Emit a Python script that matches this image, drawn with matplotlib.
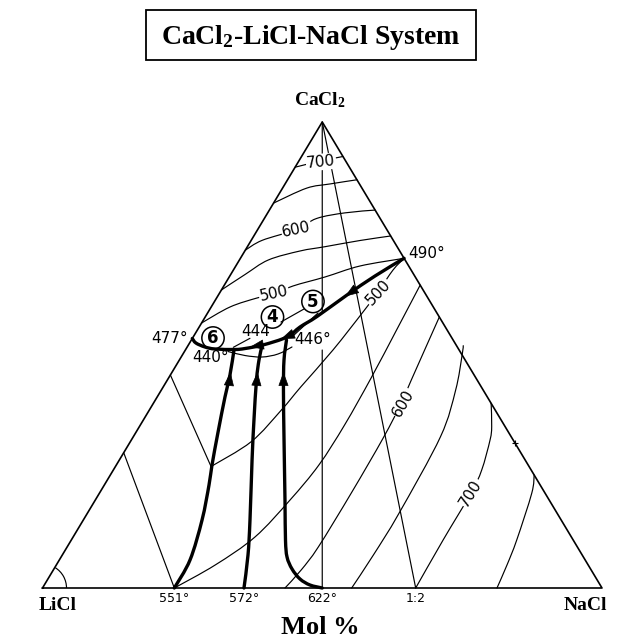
import numpy as np
import matplotlib
matplotlib.use('Agg')
import matplotlib.pyplot as plt
from matplotlib.patches import Arc, Rectangle, PathPatch
from matplotlib.path import Path

plt.rcParams['mathtext.fontset'] = 'custom'
plt.rcParams['mathtext.rm'] = 'Liberation Serif:bold'
plt.rcParams['mathtext.bf'] = 'Liberation Serif:bold'
plt.rcParams['mathtext.default'] = 'rm'

# ==========================================
# DATA  (b = mol% NaCl, c = mol% CaCl2)
# ==========================================
# liquidus isotherms in the CaCl2 field
iso700_b = [0, 3.5, 7.4]
iso700_c = [90.3, 91.5, 92.6]
iso650_b = [0, 4.3, 8.0, 12.4]
iso650_c = [82.6, 85.8, 86.7, 87.6]
iso600_b = [0, 1.95, 6.85, 9.35, 13.8, 18.9]
iso600_c = [72.5, 74.6, 76.9, 79.3, 80.5, 81.1]
iso550_b = [0, 2.56, 5.17, 9.87, 13.87, 19.46, 24.46]
iso550_c = [63.95, 67.27, 70.39, 72.32, 73.24, 74.57, 75.54]
iso500_b = [0, 3.36, 7.22, 9.83, 12.37, 17.12, 22.20, 29.25]
iso500_c = [56.87, 60.30, 62.23, 63.09, 64.81, 66.74, 69.10, 70.75]

# isotherms in the lower fields (split where they bend at a boundary)
low500_b = [29.25, 28.53, 28.20, 27.67, 26.38, 24.6, 23.6, 21.6, 17.09]
low500_c = [70.75, 68.24, 63.52, 59.23, 51.07, 43.20, 38.20, 31.39, 26.07]
low500li_b = [17.09, 0]
low500li_c = [26.07, 45.71]
low550_b = [35.0, 35.6, 36.2, 36.5, 36.2, 34.8, 32.5, 28.4, 23.56]
low550_c = [65.0, 55.36, 45.06, 34.98, 26.39, 18.88, 10.94, 4.94, 0]
low550li_b = [23.56, 0]
low550li_c = [0, 29.03]
low600_b = [41.85, 43.6, 44.3, 44.8, 45.0, 44.9, 44.3, 43.34]
low600_c = [58.15, 44.63, 39.70, 32.12, 20.60, 8.86, 3.86, 0]
low650_b = [55.26, 55.6, 55.7, 54.9, 52.6, 50.0, 49.2]
low650_c = [0, 7.08, 16.03, 32.47, 42.49, 50.0, 52.0]
low700_b = [66.7, 66.45, 66.40, 65.84, 64.11, 62.98, 60.37]
low700_c = [0, 10.36, 20.39, 25.32, 31.76, 34.61, 39.63]
low750_b = [81.23, 80.55, 79.61, 77.28, 75.75]
low750_c = [0, 4.94, 10.30, 20.32, 24.25]

# boundary curves (heavy)
bnd551_b = [23.56, 23.36, 21.22, 18.71, 17.10, 14.64, 12.12, 10.65, 8.69]
bnd551_c = [0, 6.01, 14.59, 22.10, 26.39, 33.48, 40.99, 45.71, 51.07]
bnd572_b = [36.01, 33.19, 29.79, 23.72, 19.77, 15.93, 14.23, 13.26]
bnd572_c = [0, 7.08, 14.59, 27.47, 36.05, 44.63, 48.93, 51.93]
bnd622_b = [50.0, 47.49, 45.06, 42.56, 40.38, 38.28, 33.90, 27.29, 21.82, 18.70, 17.00]
bnd622_c = [0, 0.64, 1.93, 4.08, 6.65, 10.30, 18.88, 31.76, 42.49, 48.93, 53.22]
bndtop_b = [29.25, 25.95, 22.98, 19.93, 18.02, 16.77, 13.33, 10.49, 8.81, 5.18, 3.18, 1.14, 0]
bndtop_c = [70.75, 66.95, 62.87, 58.26, 56.01, 53.86, 52.15, 51.39, 51.18, 51.29, 51.72, 52.57, 53.54]

# thin lines near the invariant points
under_b = [7.77, 11.24, 14.44, 16.98, 18.73]
under_c = [50.75, 49.89, 49.57, 50.21, 51.72]
ties = [([17.73, 19.73], [54.08, 59.01]),
        ([14.08, 16.80], [57.08, 59.87]),
        ([8.28, 10.29], [51.65, 53.58])]

# joins from the CaCl2 corner
join11_b = [[0, 20.4], [24.46, 50.0]]
join11_c = [[100, 59.2], [51.07, 0]]
join12_b = [0, 66.7]
join12_c = [100, 0]

# arrows on boundary curves: (tail b, tail c, tip b, tip c)
arrows = [(11.55, 43.56, 10.43, 46.35),
          (16.46, 43.56, 15.25, 46.35),
          (21.29, 43.56, 19.89, 46.35),
          (23.95, 64.16, 22.79, 62.55),
          (17.39, 54.40, 15.91, 53.43),
          (12.98, 52.15, 11.22, 51.72)]

# isotherm labels: text, b, c, angle
iso_labels = [('700', 4.07, 91.42, 6), ('600', 6.99, 76.82, 12), ('500', 9.83, 63.09, 12),
              ('500', 28.20, 63.52, 47), ('600', 44.58, 39.70, 60), ('700', 66.40, 20.39, 58)]
# point labels: text, b, c, ha
pt_labels = [('490°', 29.47, 71.78, 'left'), ('477°', -0.8, 53.54, 'right'),
             ('440°', 5.38, 49.46, 'center'), ('444', 10.63, 55.04, 'center'),
             ('446°', 21.54, 53.43, 'center')]
circled = [('6', 3.65, 53.65), ('4', 12.03, 58.15), ('5', 17.60, 61.48)]
base_labels = ['551°', '572°', '622°', '1:2']
base_b = [23.56, 36.01, 50.0, 66.7]

H = np.sqrt(3) / 2


def xy(b, c):
    b = np.asarray(b, dtype=float) / 100
    c = np.asarray(c, dtype=float) / 100
    return b + c / 2, c * H


def smooth(ax, b, c, **kw):
    # draw the read points as one smooth bezier stroke (catmull-rom style)
    x, y = xy(b, c)
    p = np.column_stack([x, y])
    n = len(p)
    verts, codes = [p[0]], [Path.MOVETO]
    for i in range(n - 1):
        p0 = p[i - 1] if i > 0 else p[i]
        p3 = p[i + 2] if i + 2 < n else p[i + 1]
        verts += [p[i] + (p[i + 1] - p0) / 6, p[i + 1] - (p3 - p[i]) / 6, p[i + 1]]
        codes += [Path.CURVE4] * 3
    ax.add_patch(PathPatch(Path(verts, codes), fill=False, clip_on=False, **kw))


fig = plt.figure(figsize=(6.23, 6.43), dpi=100)
ax = fig.add_axes([42.5 / 623, 55 / 643, 559.5 / 623, 466 / 643])
ax.set_xlim(0, 1)
ax.set_ylim(0, H)
ax.axis('off')

thin = dict(edgecolor='k', lw=0.85, capstyle='round', joinstyle='round')
heavy = dict(edgecolor='k', lw=2.4, capstyle='round', joinstyle='round')

# triangle
ax.plot(*xy([0, 100, 0, 0], [0, 0, 100, 0]), color='k', lw=1.2, clip_on=False)
ax.add_patch(Arc((0, 0), 2 * 24 / 559.5, 2 * 24 / 466 * H, theta1=0, theta2=59,
                 color='k', lw=0.85))

for bb, cc in [(iso700_b, iso700_c), (iso650_b, iso650_c), (iso600_b, iso600_c),
               (iso550_b, iso550_c), (iso500_b, iso500_c),
               (low500_b, low500_c), (low500li_b, low500li_c),
               (low550_b, low550_c), (low550li_b, low550li_c), (low600_b, low600_c),
               (low650_b, low650_c), (low700_b, low700_c), (low750_b, low750_c),
               (under_b, under_c), (join12_b, join12_c)] + ties + list(zip(join11_b, join11_c)):
    smooth(ax, bb, cc, **thin)

for bb, cc in [(bnd551_b, bnd551_c), (bnd572_b, bnd572_c),
               (bnd622_b, bnd622_c), (bndtop_b, bndtop_c)]:
    smooth(ax, bb, cc, **heavy)

for tb, tc, hb, hc in arrows:
    ax.annotate('', xy=xy(hb, hc), xytext=xy(tb, tc),
                arrowprops=dict(arrowstyle='-|>,head_length=0.9,head_width=0.33',
                                color='k', lw=0.5, shrinkA=0, shrinkB=0))

# small mark on the NaCl side
ax.plot(*xy([68.88], [31.12]), marker='+', color='k', ms=5, mew=0.8)

num = dict(fontsize=11, family='DejaVu Sans', color='k')
for s, b, c, ang in iso_labels:
    ax.text(*xy(b, c), s, ha='center', va='center', rotation=ang, rotation_mode='anchor',
            bbox=dict(fc='white', ec='none', pad=0.6), **num)
for s, b, c, ha in pt_labels:
    ax.text(*xy(b, c), s, ha=ha, va='center', **num)
for s, b, c in circled:
    ax.text(*xy(b, c), s, ha='center', va='center', fontsize=12, fontweight='bold',
            bbox=dict(boxstyle='circle,pad=0.13', fc='none', ec='k', lw=1.1))
for s, b in zip(base_labels, base_b):
    ax.annotate(s, xy(b, 0), xytext=(0, -3), textcoords='offset points',
                ha='center', va='top', fontsize=9, family='DejaVu Sans')

serif = dict(family='Liberation Serif', fontweight='bold', color='k')
fig.text(320 / 623, 1 - 100 / 643, 'CaCl$_2$', ha='center', va='center', fontsize=14, **serif)
fig.text(58 / 623, 1 - 606 / 643, 'LiCl', ha='center', va='center', fontsize=14, **serif)
fig.text(585 / 623, 1 - 606 / 643, 'NaCl', ha='center', va='center', fontsize=14, **serif)
fig.text(320 / 623, 1 - 627 / 643, 'Mol %', ha='center', va='center', fontsize=19, **serif)

fig.patches.append(Rectangle((146 / 623, 1 - 60 / 643), 330 / 623, 50 / 643,
                             transform=fig.transFigure, fill=False, lw=1.3, color='k'))
fig.text(311 / 623, 1 - 37 / 643, 'CaCl$_2$-LiCl-NaCl System', ha='center', va='center',
         fontsize=20, **serif)

fig.savefig('out.png', dpi=100, facecolor='white')
